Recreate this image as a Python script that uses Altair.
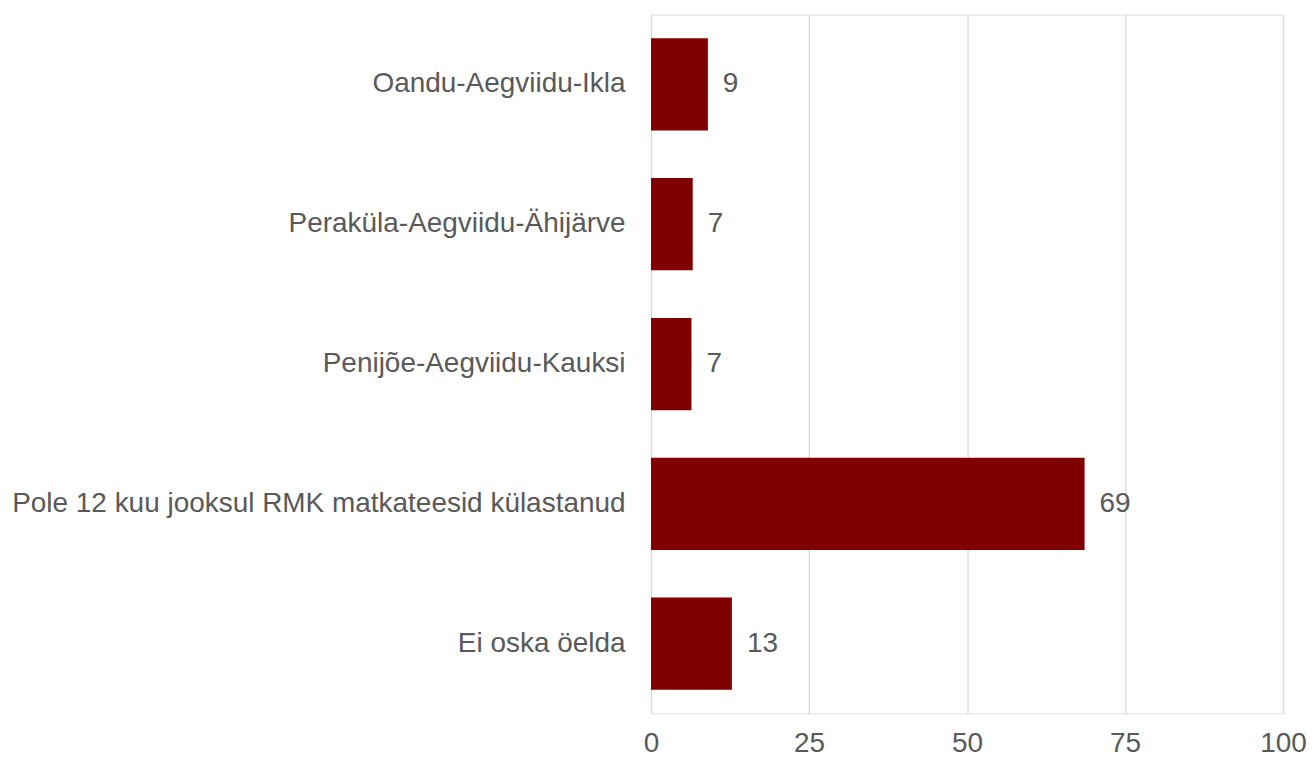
import altair as alt
import pandas as pd

categories = [
    "Oandu-Aegviidu-Ikla",
    "Peraküla-Aegviidu-Ähijärve",
    "Penijõe-Aegviidu-Kauksi",
    "Pole 12 kuu jooksul RMK matkateesid külastanud",
    "Ei oska öelda",
]
values = [9.0, 6.6, 6.4, 68.6, 12.8]
labels = ["9", "7", "7", "69", "13"]
ticks = [0, 25, 50, 75, 100]

df = pd.DataFrame({"cat": categories, "val": values, "lab": labels})

FONT = "Liberation Sans"

y = alt.Y(
    "cat:N",
    sort=categories,
    title=None,
    scale=alt.Scale(paddingInner=0.34, paddingOuter=0.17),
    axis=alt.Axis(
        domain=False, ticks=False, labelFont=FONT, labelFontSize=28,
        labelColor="#595959", labelPadding=26, labelLimit=1000,
    ),
)
x = alt.X(
    "val:Q",
    title=None,
    scale=alt.Scale(domain=[0, 100], nice=False),
    axis=alt.Axis(
        values=ticks, domain=False, ticks=False, grid=True,
        gridColor="#d9d9d9", gridWidth=1.3,
        labelFont=FONT, labelFontSize=28, labelColor="#595959",
        labelPadding=16, labelFlush=False,
    ),
)

bars = alt.Chart(df).mark_bar(color="#800000").encode(x=x, y=y)
text = alt.Chart(df).mark_text(
    align="left", baseline="middle", dx=15, font=FONT, fontSize=28, color="#595959"
).encode(x=alt.X("val:Q"), y=alt.Y("cat:N", sort=categories), text="lab:N")

chart = (
    (bars + text)
    .properties(width=633, height=700, padding={"left": 3, "top": 6, "right": 0, "bottom": 0})
    .configure_view(stroke=None)
    .configure(background="white")
)

chart.save("out.html", embed_options={"renderer": "svg", "actions": False})
